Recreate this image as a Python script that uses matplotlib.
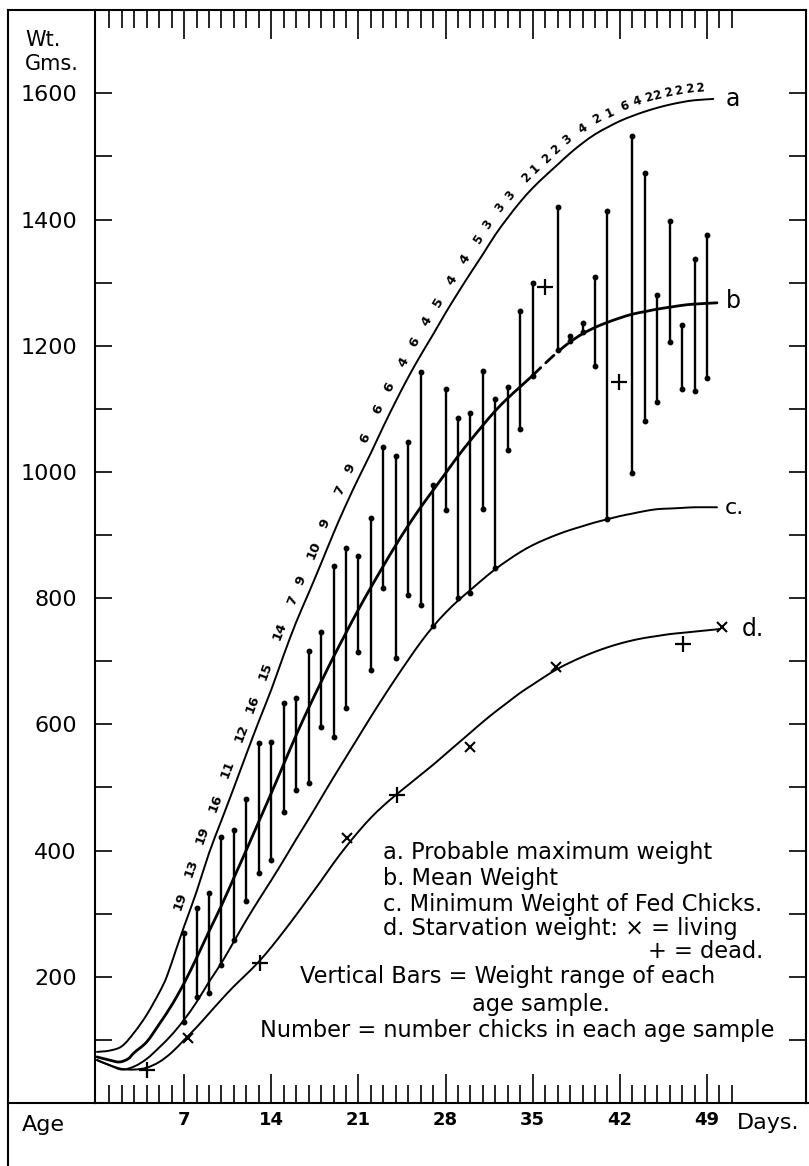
import numpy as np
import matplotlib
matplotlib.use("Agg")
import matplotlib.pyplot as plt
from matplotlib.lines import Line2D
from matplotlib.path import Path
from matplotlib.patches import PathPatch

# ---------------- DATA ----------------
curve_a_days = [0, 1, 2, 3, 4, 5, 5.6, 6.3, 7, 8, 9, 10, 11, 12, 13, 14, 15, 16, 17, 18, 19, 20,
                21, 22, 23, 24, 25, 26, 27, 28, 29, 30, 31, 32, 33, 34, 35, 36, 37, 38, 39, 40,
                41, 42, 43, 44, 45, 46, 47, 48, 49.5]
curve_a_wt = [81, 83, 90, 112, 140, 175, 200, 240, 280, 335, 396, 448, 500, 553, 605, 655, 710,
              762, 808, 855, 903, 948, 990, 1030, 1072, 1112, 1150, 1185, 1218, 1252, 1284, 1315,
              1345, 1376, 1403, 1428, 1450, 1469, 1487, 1505, 1521, 1535, 1546, 1556, 1564, 1571,
              1577, 1582, 1586, 1589, 1591]

curve_b_days = [0, 1, 1.8, 2.5, 3, 4, 5, 6, 7, 8, 9, 10, 11, 12, 13, 14, 15, 16, 17, 18, 19, 20,
                21, 22, 23, 24, 25, 26, 27, 28, 29, 30, 31, 32, 33, 34, 35, 36, 37, 38, 39, 40,
                41, 42, 43, 44, 45, 46, 47, 48, 49.8]
curve_b_wt = [73, 68, 65, 70, 80, 97, 125, 155, 190, 230, 272, 313, 357, 401, 446, 491, 537, 583,
              626, 667, 707, 745, 782, 817, 851, 884, 915, 944, 971, 998, 1025, 1050, 1074, 1097,
              1117, 1135, 1153, 1172, 1190, 1206, 1219, 1229, 1237, 1244, 1250, 1254, 1258, 1261,
              1264, 1266, 1268]
b_dashed_from, b_dashed_to = 35, 39

curve_c_days = [0, 1, 2, 3, 4, 5, 6, 7, 8, 9, 10, 11, 12, 13, 14, 15, 16, 17, 18, 19, 20, 21, 22,
                23, 24, 25, 26, 27, 28, 29, 30, 31, 32, 33, 34, 35, 36, 37, 38, 39, 40, 41, 42,
                43, 44, 45, 46, 47, 48, 49.8]
curve_c_wt = [68, 60, 53, 58, 70, 88, 108, 132, 160, 192, 222, 256, 290, 322, 353, 385, 418, 450,
              483, 516, 548, 580, 612, 643, 673, 702, 730, 755, 777, 796, 813, 830, 846, 860, 873,
              884, 893, 901, 908, 914, 920, 925, 930, 934, 938, 941, 942, 943, 944, 944]

curve_d_days = [0, 1, 2, 3, 4, 5, 6, 7, 8, 9, 10, 11, 12, 13, 14, 15, 16, 17, 18, 19, 20, 21, 22,
                23, 24, 25, 26, 27, 28, 29, 30, 31, 32, 33, 34, 35, 36, 37, 38, 39, 40, 41, 42,
                43, 44, 45, 46, 47, 48, 49, 50]
curve_d_wt = [68, 60, 54, 53, 56, 65, 80, 100, 120, 142, 164, 185, 204, 224, 247, 272, 298, 325,
              352, 380, 406, 430, 452, 471, 488, 504, 520, 536, 553, 570, 587, 604, 620, 635, 650,
              663, 676, 688, 698, 707, 715, 722, 728, 733, 737, 740, 743, 745, 747, 749, 751]

bar_days = [7, 8, 9, 10, 11, 12, 13, 14, 15, 16, 17, 18, 19, 20, 21, 22, 23, 24, 25, 26, 27, 28,
            29, 30, 31, 32, 33, 34, 35, 37, 38, 39, 40, 41, 43, 44, 45, 46, 47, 48, 49]
bar_low = [128, 168, 174, 219, 258, 320, 364, 385, 461, 496, 507, 596, 580, 626, 715, 686, 816,
           705, 805, 789, 756, 940, 800, 808, 942, 848, 1034, 1068, 1152, 1193, 1207, 1222, 1168,
           925, 998, 1081, 1111, 1206, 1131, 1128, 1149]
bar_high = [269, 309, 333, 422, 433, 481, 570, 572, 634, 642, 716, 746, 851, 879, 867, 927, 1040,
            1025, 1048, 1159, 979, 1131, 1085, 1094, 1160, 1115, 1135, 1255, 1299, 1420, 1215,
            1236, 1309, 1414, 1532, 1473, 1281, 1397, 1233, 1337, 1375]

sample_counts = ['19', '13', '19', '16', '11', '12', '16', '15', '14', '7', '9', '10', '9', '7',
                 '9', '6', '6', '6', '4', '6', '4', '5', '4', '4', '5', '3', '3', '3', '2', '1',
                 '2', '2', '3', '4', '2', '1', '6', '4', '2', '2', '2', '2', '2', '2']
count_label_days = [6.7, 7.6, 8.5, 9.5, 10.5, 11.6, 12.5, 13.5, 14.7, 15.7, 16.4, 17.4, 18.3,
                    19.5, 20.3, 21.5, 22.6, 23.5, 24.6, 25.5, 26.5, 27.4, 28.5, 29.6, 30.6, 31.4,
                    32.4, 33.2, 34.5, 35.2, 36.1, 36.9, 37.8, 39.0, 40.2, 41.2, 42.4, 43.4, 44.3,
                    45.0, 45.9, 46.7, 47.6, 48.4]

living_days = [7.3, 20.1, 30.0, 36.9, 50.2]
living_wt = [103, 420, 564, 691, 754]
dead_days = [4.0, 13.1, 24.1, 47.1]
dead_wt = [52, 222, 488, 727]
extra_plus_days = [36.0, 41.9]
extra_plus_wt = [1293, 1143]

x_major_days = [7, 14, 21, 28, 35, 42, 49]
x_tick_labels = ['7', '14', '21', '28', '35', '42', '49']
x_minor_days = [d for d in range(1, 52) if d % 7 != 0]
y_tick_vals = list(range(100, 1700, 100))
y_tick_labels = ['', '200', '', '400', '', '600', '', '800', '', '1000', '', '1200', '', '1400',
                 '', '1600']

legend_lines = ["a. Probable maximum weight",
                "b. Mean Weight",
                "c. Minimum Weight of Fed Chicks.",
                "d. Starvation weight: \u00d7 = living",
                "+ = dead.",
                "Vertical Bars = Weight range of each",
                "age sample.",
                "Number = number chicks in each age sample"]

# ---------------- LAYOUT ----------------
W, H = 809, 1166
plt.rcParams['font.family'] = ['DejaVu Sans']
fig = plt.figure(figsize=(W / 100, H / 100), dpi=100)
L, R, T, B = 95, 806, 10, 1103
ax = fig.add_axes([L / W, 1 - B / H, (R - L) / W, (B - T) / H])
ax.set_xlim(-0.16, 56.95)
ax.set_ylim(0, 1732)
for s in ax.spines.values():
    s.set_linewidth(1.5)

ax.set_xticks(x_major_days)
ax.set_xticklabels(x_tick_labels, fontsize=13, fontweight='bold')
ax.set_xticks(x_minor_days, minor=True)
ax.tick_params(axis='x', which='major', direction='in', length=21, width=1.2, top=True,
               bottom=True, pad=6)
ax.tick_params(axis='x', which='minor', direction='in', length=13, width=1.2, top=True,
               bottom=True)
ax.set_yticks(y_tick_vals)
ax.set_yticklabels(y_tick_labels, fontsize=16)
ax.tick_params(axis='y', which='major', direction='in', length=12.5, width=1.2, left=True,
               right=True, pad=13)


def smooth_curve(xs, ys, lw, ls='-'):
    """Draw a smooth (Catmull-Rom -> cubic Bezier) path through the read points."""
    xs = np.asarray(xs, float)
    ys = np.asarray(ys, float)
    pts = np.column_stack([xs, ys])
    n = len(pts)
    verts = [pts[0]]
    codes = [Path.MOVETO]
    for i in range(n - 1):
        p0 = pts[i - 1] if i > 0 else pts[i]
        p1 = pts[i]
        p2 = pts[i + 1]
        p3 = pts[i + 2] if i + 2 < n else pts[i + 1]
        c1 = p1 + (p2 - p0) / 6.0
        c2 = p2 - (p3 - p1) / 6.0
        verts += [c1, c2, p2]
        codes += [Path.CURVE4] * 3
    patch = PathPatch(Path(verts, codes), facecolor='none', edgecolor='k', lw=lw,
                      linestyle=ls, capstyle='round', joinstyle='round')
    ax.add_patch(patch)


smooth_curve(curve_a_days, curve_a_wt, 1.4)
bd = np.array(curve_b_days)
bw = np.array(curve_b_wt)
m1 = bd <= b_dashed_from
m2 = (bd >= b_dashed_from) & (bd <= b_dashed_to)
m3 = bd >= b_dashed_to
smooth_curve(bd[m1], bw[m1], 2.0)
smooth_curve(bd[m2], bw[m2], 2.0, ls=(0, (4, 2.5)))
smooth_curve(bd[m3], bw[m3], 2.0)
smooth_curve(curve_c_days, curve_c_wt, 1.4)
smooth_curve(curve_d_days, curve_d_wt, 1.4)

ax.vlines(bar_days, bar_low, bar_high, color='k', lw=1.7)
ax.plot(bar_days, bar_low, 'o', color='k', ms=3.2)
ax.plot(bar_days, bar_high, 'o', color='k', ms=3.2)

ax.plot(living_days, living_wt, 'x', color='k', ms=7, mew=1.5)
ax.plot(dead_days, dead_wt, '+', color='k', ms=11, mew=1.6)
ax.plot(extra_plus_days, extra_plus_wt, '+', color='k', ms=11, mew=1.6)

# curve letters
ax.annotate('a', (curve_a_days[-1], curve_a_wt[-1]), xytext=(20, 0), textcoords='offset pixels',
            ha='center', va='center', fontsize=17)
ax.annotate('b', (curve_b_days[-1], curve_b_wt[-1]), xytext=(16, 2), textcoords='offset pixels',
            ha='center', va='center', fontsize=17)
ax.annotate('c.', (curve_c_days[-1], curve_c_wt[-1]), xytext=(17, -1), textcoords='offset pixels',
            ha='center', va='center', fontsize=16)
ax.annotate('d.', (curve_d_days[-1], curve_d_wt[-1]), xytext=(33, 0), textcoords='offset pixels',
            ha='center', va='center', fontsize=17)

# sample counts along curve a
tr = ax.transData
tt = np.linspace(curve_a_days[0], curve_a_days[-1], 3000)
yy = np.interp(tt, curve_a_days, curve_a_wt)
P = tr.transform(np.column_stack([tt, yy]))
dP = np.gradient(P, axis=0)
k = np.ones(120) / 120
dx = np.convolve(dP[:, 0], k, mode='same')
dy = np.convolve(dP[:, 1], k, mode='same')
nrm = np.hypot(dx, dy)
nx, ny = -dy / nrm, dx / nrm
off = 12
LX = P[:, 0] + off * nx
LY = P[:, 1] + off * ny
idx = np.arange(len(tt))
for lab, dday in zip(sample_counts, count_label_days):
    tx = tr.transform((dday, 0))[0]
    i = int(round(np.interp(tx, LX, idx)))
    pos = tr.inverted().transform((LX[i], LY[i]))
    ang = np.degrees(np.arctan2(dy[i], dx[i]))
    fs = 9.5 if dday < 30 else 8.5
    ax.text(pos[0], pos[1], lab, rotation=ang, rotation_mode='anchor', ha='center',
            va='center', fontsize=fs, fontweight='bold')

# ---------------- FRAME EXTENSIONS ----------------
def fig_line(x0, y0, x1, y1, lw=1.5):
    fig.add_artist(Line2D([x0 / W, x1 / W], [1 - y0 / H, 1 - y1 / H], color='k', lw=lw,
                          transform=fig.transFigure))

fig_line(8, T, L, T)
fig_line(8, B, L, B)
fig_line(8, T, 8, H)
fig_line(R, B, W, B)

# ---------------- TEXT ----------------
def ftext(x, y, s, **kw):
    return fig.text(x / W, 1 - y / H, s, **kw)

ftext(25, 40, "Wt.", fontsize=15, ha='left', va='center')
ftext(25, 64, "Gms.", fontsize=15, ha='left', va='center')
ftext(22, 1125, "Age", fontsize=16, ha='left', va='center')
ftext(737, 1123, "Days.", fontsize=16, ha='left', va='center')

legend_pos = [(383, 853), (383, 878), (383, 904), (383, 928), (648, 952), (300, 977),
              (472, 1005), (260, 1030)]
renderer = fig.canvas.get_renderer()
probe = ftext(0, 0, legend_lines[-1], fontsize=15)
wpx = probe.get_window_extent(renderer).width
probe.remove()
leg_fs = 15 * (777 - 260) / wpx
for s, (x, y) in zip(legend_lines, legend_pos):
    ftext(x, y, s, fontsize=leg_fs, ha='left', va='center')

fig.savefig("out.png", dpi=100)
